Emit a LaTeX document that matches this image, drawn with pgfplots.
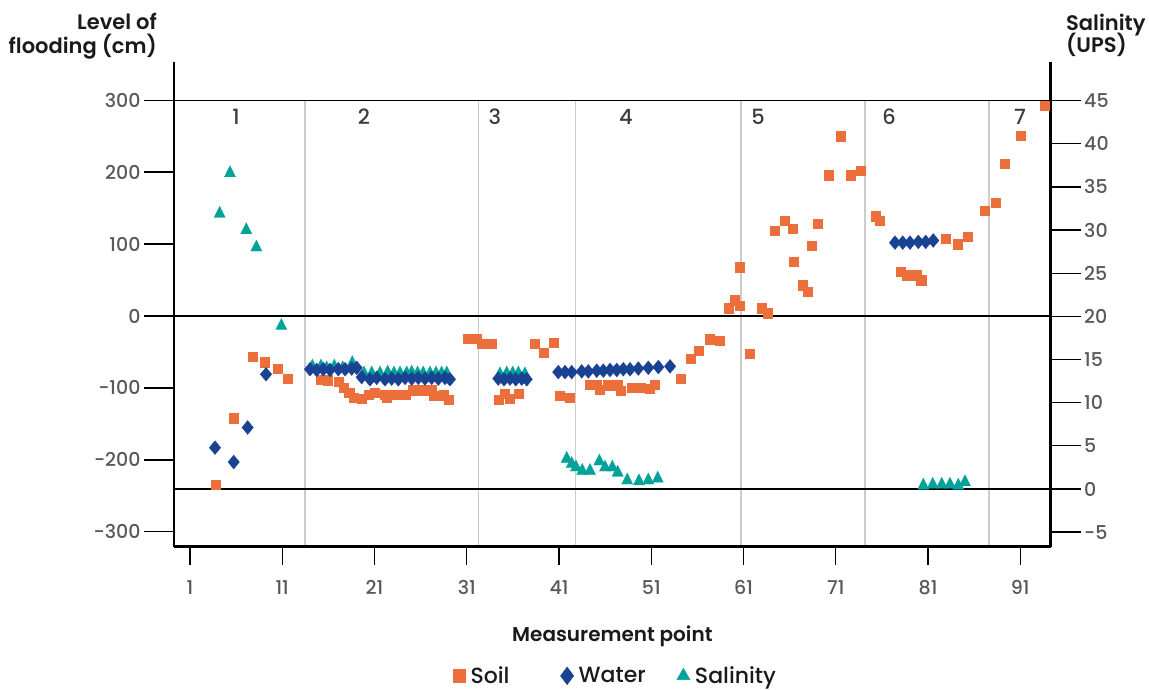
\documentclass[border=0pt]{standalone}
\usepackage{fontspec}
\setmainfont{Poppins}[UprightFont=* Medium, BoldFont=* SemiBold]
\usepackage{pgfplots}
\usepackage{pgfplotstable}
\pgfplotsset{compat=1.18}
\definecolor{soilc}{RGB}{236,110,58}
\definecolor{waterc}{RGB}{26,66,146}
\definecolor{salc}{RGB}{0,162,154}
\definecolor{gridc}{RGB}{204,204,204}
\definecolor{tickc}{RGB}{88,88,88}
\definecolor{titc}{RGB}{26,26,26}

\pgfplotstableread{
x y
3.74 -234
5.69 -142
7.75 -56
9.05 -64
10.46 -73
11.55 -87
15.20 -88
15.93 -89
17.08 -91
17.62 -100
18.24 -107
18.70 -113
19.61 -115
20.33 -109
21.05 -106
22.14 -109
22.32 -113
23.33 -109
24.31 -109
25.14 -103
26.12 -103
27.20 -103
27.37 -111
28.46 -110
29.00 -116
31.06 -31
32.08 -31
32.62 -38
33.66 -38
34.42 -116
35.07 -108
35.61 -115
36.59 -108
38.32 -38
39.30 -51
40.38 -37
41.03 -111
42.19 -113
44.28 -95
45.09 -95
45.37 -102
46.24 -96
47.32 -96
47.72 -104
48.88 -99
49.78 -99
50.86 -101
51.40 -95
54.15 -87
55.23 -59
56.10 -48
57.29 -32
58.38 -34
59.35 11
60.05 22
60.55 15
60.55 68
61.63 -52
62.93 11
63.58 4
64.34 119
65.42 133
66.29 121
66.40 76
67.37 43
67.92 34
68.35 98
69.00 128
70.19 196
71.49 250
72.58 196
73.71 202
75.29 139
75.72 133
78.07 62
78.69 57
79.70 57
80.24 50
82.92 108
84.18 100
85.26 110
87.10 146
88.30 158
89.27 212
91.00 251
93.60 292
}\soiltab

\pgfplotstableread{
x y
3.71 -183
5.74 -203
7.25 -155
9.24 -81
14.01 -74
14.73 -75
15.45 -74
16.18 -75
17.08 -74
17.81 -74
18.53 -73
19.07 -72
19.61 -85
20.51 -88
21.24 -86
22.14 -88
22.86 -87
23.58 -88
24.31 -86
25.03 -87
25.75 -86
26.47 -87
27.20 -86
27.92 -87
28.64 -86
29.18 -88
34.42 -87
35.04 -88
35.69 -87
36.31 -88
36.96 -87
37.50 -88
40.92 -78
41.65 -78
42.38 -78
43.46 -77
44.18 -77
45.09 -76
45.80 -76
46.53 -75
47.26 -75
47.97 -74
48.70 -74
49.60 -73
50.68 -72
51.77 -71
53.04 -70
77.42 102
78.26 102
79.05 102
79.95 103
80.75 103
81.57 105
}\watertab

\pgfplotstableread{
x y
4.22 31.9
5.34 36.6
7.10 30.0
8.19 28.0
10.90 18.9
14.26 14.2
15.20 14.2
15.82 14.0
16.64 14.2
17.55 14.0
18.59 14.6
19.86 13.4
20.70 13.4
21.60 13.4
22.43 13.5
23.11 13.4
23.76 13.4
24.49 13.4
25.03 13.5
25.68 13.4
26.29 13.4
27.02 13.4
27.67 13.4
28.28 13.4
28.83 13.4
34.60 13.3
35.33 13.4
35.98 13.4
36.59 13.4
37.31 13.3
41.83 3.5
42.38 2.9
42.84 2.5
43.52 2.1
44.36 2.1
45.37 3.2
45.99 2.5
46.78 2.5
47.36 1.9
48.40 1.0
49.67 0.9
50.68 1.0
51.70 1.2
80.49 0.4
81.51 0.5
82.49 0.5
83.38 0.5
84.28 0.4
85.01 0.8
}\saltab

\begin{document}
\begin{tikzpicture}
\useasboundingbox (-174pt,-142.3pt) rectangle (975pt,546.7pt);
\pgfplotsset{
  common/.style={
    scale only axis, width=876.7pt, height=484.7pt,
    xmin=-0.734, xmax=94.30,
    at={(0pt,0pt)}, anchor=south west,
    tick align=outside, major tick length=30pt,
    axis line style={line width=2.7pt, black},
    tick style={line width=1.3pt, black},
    clip=false,
  }
}
% ---------- salinity axis (right), drawn first ----------
\begin{axis}[common,
  axis x line=none, axis y line*=right,
  ymin=-6.69, ymax=49.48,
  ytick={-5,0,5,10,15,20,25,30,35,40,45},
  yticklabels={-5,0,5,10,15,20,25,30,35,40,45},
  yticklabel style={font=\fontsize{19}{20}\selectfont, text=tickc},
]
\pgfplotsinvokeforeach{13.47,32.25,42.81,60.73,74.17,87.61}{
  \draw[gridc, line width=1.5pt] (axis cs:#1,45) -- (axis cs:#1,-6.69);
}
\draw[black, line width=1.3pt] (axis cs:-0.734,45) -- (axis cs:94.30,45);
\draw[black, line width=1.3pt] (axis cs:-0.734,20.05) -- (axis cs:94.30,20.05);
\draw[black, line width=1.3pt] (axis cs:-0.734,0) -- (axis cs:94.30,0);
\addplot[only marks, mark=triangle*, mark size=6.5pt,
  mark options={draw=salc, fill=salc, line width=0.2pt, yscale=1.15}] table {\saltab};
\end{axis}
% ---------- flooding axis (left) ----------
\begin{axis}[common,
  axis x line*=bottom, axis y line*=left,
  ymin=-320.7, ymax=353.1,
  ytick={-300,-200,-100,0,100,200,300},
  yticklabels={-300,-200,-100,0,100,200,300},
  xtick={1,11,21,31,41,51,61,71,81,91},
  xticklabels={1,11,21,31,41,51,61,71,81,91},
  xtick style={/pgfplots/major tick length=18pt},
  yticklabel style={font=\fontsize{19}{20}\selectfont, text=tickc},
  xticklabel style={font=\fontsize{19}{20}\selectfont, text=tickc},
  xlabel={Measurement point},
  xlabel style={at={(axis description cs:0.5,-0.1966)}, anchor=base,
    font=\bfseries\fontsize{20}{22}\selectfont, text=titc},
  legend columns=3,
  legend style={at={(0.318,-0.2665)}, anchor=west, draw=none, fill=none,
    inner sep=0pt, nodes={inner xsep=5pt, inner ysep=0pt},
    font=\fontsize{22}{24}\selectfont, text=titc,
    /tikz/column 2/.style={column sep=46pt},
    /tikz/column 4/.style={column sep=26pt}},
]
\addplot[only marks, mark=square*, mark size=4.6pt, forget plot,
  mark options={draw=soilc, fill=soilc, line width=0.2pt}] table {\soiltab};
\addplot[only marks, mark=diamond*, mark size=7pt, forget plot,
  mark options={draw=waterc, fill=waterc, line width=0.2pt, xscale=1.1}] table {\watertab};
\addlegendimage{only marks, mark=square*, mark size=6.3pt, mark options={draw=soilc, fill=soilc}}
\addlegendimage{only marks, mark=diamond*, mark size=8.8pt, mark options={draw=waterc, fill=waterc}}
\addlegendimage{only marks, mark=triangle*, mark size=7.6pt, mark options={draw=salc, fill=salc}}
\legend{Soil, Water, Salinity}
\node[font=\fontsize{21}{22}\selectfont, text=titc!85] at (axis cs:5.99,277) {1};
\node[font=\fontsize{21}{22}\selectfont, text=titc!85] at (axis cs:19.86,277) {2};
\node[font=\fontsize{21}{22}\selectfont, text=titc!85] at (axis cs:34.06,277) {3};
\node[font=\fontsize{21}{22}\selectfont, text=titc!85] at (axis cs:48.26,277) {4};
\node[font=\fontsize{21}{22}\selectfont, text=titc!85] at (axis cs:62.57,277) {5};
\node[font=\fontsize{21}{22}\selectfont, text=titc!85] at (axis cs:76.77,277) {6};
\node[font=\fontsize{21}{22}\selectfont, text=titc!85] at (axis cs:90.97,277) {7};
\end{axis}
\node[anchor=base east, font=\bfseries\fontsize{21}{22}\selectfont, text=titc, inner sep=0pt] at (-17pt,516.7pt) {Level of};
\node[anchor=base east, font=\bfseries\fontsize{21}{22}\selectfont, text=titc, inner sep=0pt] at (-17pt,493.4pt) {flooding (cm)};
\node[anchor=base west, font=\bfseries\fontsize{21}{22}\selectfont, text=titc, inner sep=0pt] at (892pt,516pt) {Salinity};
\node[anchor=base west, font=\bfseries\fontsize{21}{22}\selectfont, text=titc, inner sep=0pt] at (892pt,494pt) {(UPS)};
\end{tikzpicture}
\end{document}
